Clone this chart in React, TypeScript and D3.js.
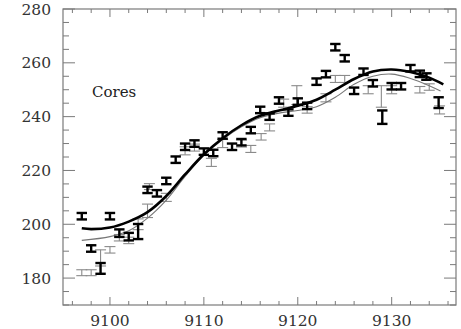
import React from "react";
import * as d3 from "d3";

const W = 461, H = 329;
const M = { left: 63, right: 456, top: 9, bottom: 305 };

const xDomain: [number, number] = [9095, 9136.85];
const yDomain: [number, number] = [170, 280];
const xTickLabels = [9100, 9110, 9120, 9130];
const yTickLabels = [180, 200, 220, 240, 260, 280];

// heavy (black) series
const heavyX = [9097, 9098, 9099, 9100, 9101, 9102, 9103, 9104, 9105, 9106, 9107, 9108, 9109, 9110, 9111, 9112, 9113, 9114, 9115, 9116, 9117, 9118, 9119, 9120, 9121, 9122, 9123, 9124, 9125, 9126, 9127, 9128, 9129, 9130, 9131, 9132, 9133, 9133.7, 9135];
const heavyY = [203, 191, 183.6, 203, 196.7, 195.4, 197.3, 212.8, 211.5, 216.1, 224, 228.8, 230, 227, 226.5, 233, 228.8, 230.5, 235, 242.5, 240, 246, 241.5, 245.6, 244, 253, 255.8, 265.8, 261.7, 249.6, 256.7, 252.4, 239.8, 251.3, 251.3, 258, 255.9, 254.9, 245.2];
const heavyErr = [1.2, 1.2, 2, 1.2, 1.4, 1.4, 2.8, 1.2, 1.2, 1.2, 1.2, 1.2, 1.2, 1.2, 1.2, 1.2, 1.2, 1.2, 1.2, 1.2, 1.2, 1.2, 1.2, 1.2, 1.2, 1.2, 1.2, 1.2, 1.2, 1.2, 1.2, 1.2, 2.5, 1.2, 1.2, 1.2, 1.2, 1.2, 2];

// light (gray) series
const lightX = [9097, 9098, 9099, 9100, 9101, 9102, 9103, 9104, 9104.2, 9106, 9108, 9109, 9110.8, 9112, 9114, 9115, 9116.1, 9117, 9118.5, 9119.9, 9121, 9123, 9124, 9125, 9127.5, 9128.9, 9130, 9133, 9134, 9135.1];
const lightY = [182, 182, 187.5, 190.5, 195, 194, 200, 205, 214, 210, 227.3, 228.5, 223, 230, 230, 228, 232.5, 236, 245, 248, 242.5, 247, 254, 254, 250, 247.5, 250, 250, 251, 242.5];
const lightErr = [1.1, 1.1, 3, 1.2, 1.2, 1.2, 2, 2.5, 1.1, 1.5, 1.5, 1.3, 1.5, 1.5, 1.3, 1.3, 1.2, 1.3, 1.5, 3.5, 1.2, 1.5, 1.3, 1.3, 1.5, 4, 1.5, 1.2, 1.2, 1.5];

// model curves
const heavyCurveX = [9097, 9098, 9100, 9102, 9104, 9106, 9108, 9110, 9112, 9114, 9116, 9118, 9120, 9122, 9124, 9126, 9128, 9130, 9132, 9134, 9135.5];
const heavyCurveY = [198.5, 198.2, 198.8, 201, 204.5, 210.5, 218.5, 226, 232, 236.8, 240.3, 242.3, 244, 246.3, 250, 254, 256.8, 257.5, 256.6, 254.5, 252];
const lightCurveX = [9097, 9100, 9102, 9104, 9106, 9108, 9110, 9112, 9114, 9116, 9118, 9120, 9122, 9124, 9126, 9128, 9130, 9132, 9134, 9135.2];
const lightCurveY = [194, 195.4, 197.6, 202.3, 209, 217.8, 225.6, 231.5, 236.2, 239.6, 241.3, 242.3, 243.7, 247.2, 252, 255, 255.8, 254.2, 251.5, 249.5];

export default function App() {
  const x = d3.scaleLinear().domain(xDomain).range([M.left, M.right]);
  const y = d3.scaleLinear().domain(yDomain).range([M.bottom, M.top]);
  const line = d3
    .line<[number, number]>()
    .x((d) => x(d[0]))
    .y((d) => y(d[1]))
    .curve(d3.curveCatmullRom.alpha(0.5));

  const xMinor = d3.range(9096, 9137, 2);
  const yMinor = d3.range(170, 281, 5);
  const axisColor = "#7a7a7a";
  const font = "'DejaVu Serif', serif";

  const heavyCurve = heavyCurveX.map((v, i) => [v, heavyCurveY[i]] as [number, number]);
  const lightCurve = lightCurveX.map((v, i) => [v, lightCurveY[i]] as [number, number]);

  const errBar = (xv: number, yv: number, e: number, key: string, heavy: boolean) => {
    const cx = x(xv);
    const hw = heavy ? 5.2 : 5.5;
    const y1 = y(yv - e), y2 = y(yv + e);
    const col = heavy ? "#000" : "#8a8a8a";
    const sw = heavy ? 2.4 : 1.1;
    return (
      <g key={key} stroke={col} strokeWidth={sw} fill="none">
        <line x1={cx} x2={cx} y1={y1} y2={y2} />
        <line x1={cx - hw} x2={cx + hw} y1={y1} y2={y1} />
        <line x1={cx - hw} x2={cx + hw} y1={y2} y2={y2} />
      </g>
    );
  };

  return (
    <svg width={W} height={H} style={{ position: "absolute", left: 0, top: 0, background: "#fff" }}>
      <rect x={0} y={0} width={W} height={H} fill="#fff" />
      <rect x={M.left} y={M.top} width={M.right - M.left} height={M.bottom - M.top} fill="none" stroke={axisColor} strokeWidth={1.2} />
      {xMinor.map((v) => {
        const major = v % 10 === 0;
        const len = major ? 8 : 4;
        return (
          <g key={"xt" + v} stroke={axisColor} strokeWidth={1}>
            <line x1={x(v)} x2={x(v)} y1={M.bottom} y2={M.bottom - len} />
            <line x1={x(v)} x2={x(v)} y1={M.top} y2={M.top + len} />
          </g>
        );
      })}
      {yMinor.map((v) => {
        const major = v % 20 === 0;
        const len = major ? 12 : 6;
        return (
          <g key={"yt" + v} stroke={axisColor} strokeWidth={1}>
            <line x1={M.left} x2={M.left + len} y1={y(v)} y2={y(v)} />
            <line x1={M.right} x2={M.right - len} y1={y(v)} y2={y(v)} />
          </g>
        );
      })}
      {xTickLabels.map((v) => (
        <text key={"xl" + v} x={x(v)} y={326} textAnchor="middle" fontFamily={font} fontSize={15.5} fill="#333">
          {v}
        </text>
      ))}
      {yTickLabels.map((v) => (
        <text key={"yl" + v} x={51} y={y(v) + 5.5} textAnchor="end" fontFamily={font} fontSize={15.5} fill="#333">
          {v}
        </text>
      ))}
      <text x={92} y={97} fontFamily={font} fontSize={15} fill="#222">
        Cores
      </text>
      {lightX.map((v, i) => errBar(v, lightY[i], lightErr[i], "l" + i, false))}
      <path d={line(lightCurve) || ""} fill="none" stroke="#777" strokeWidth={1.1} />
      {heavyX.map((v, i) => errBar(v, heavyY[i], heavyErr[i], "h" + i, true))}
      <path d={line(heavyCurve) || ""} fill="none" stroke="#000" strokeWidth={2.6} />
    </svg>
  );
}
